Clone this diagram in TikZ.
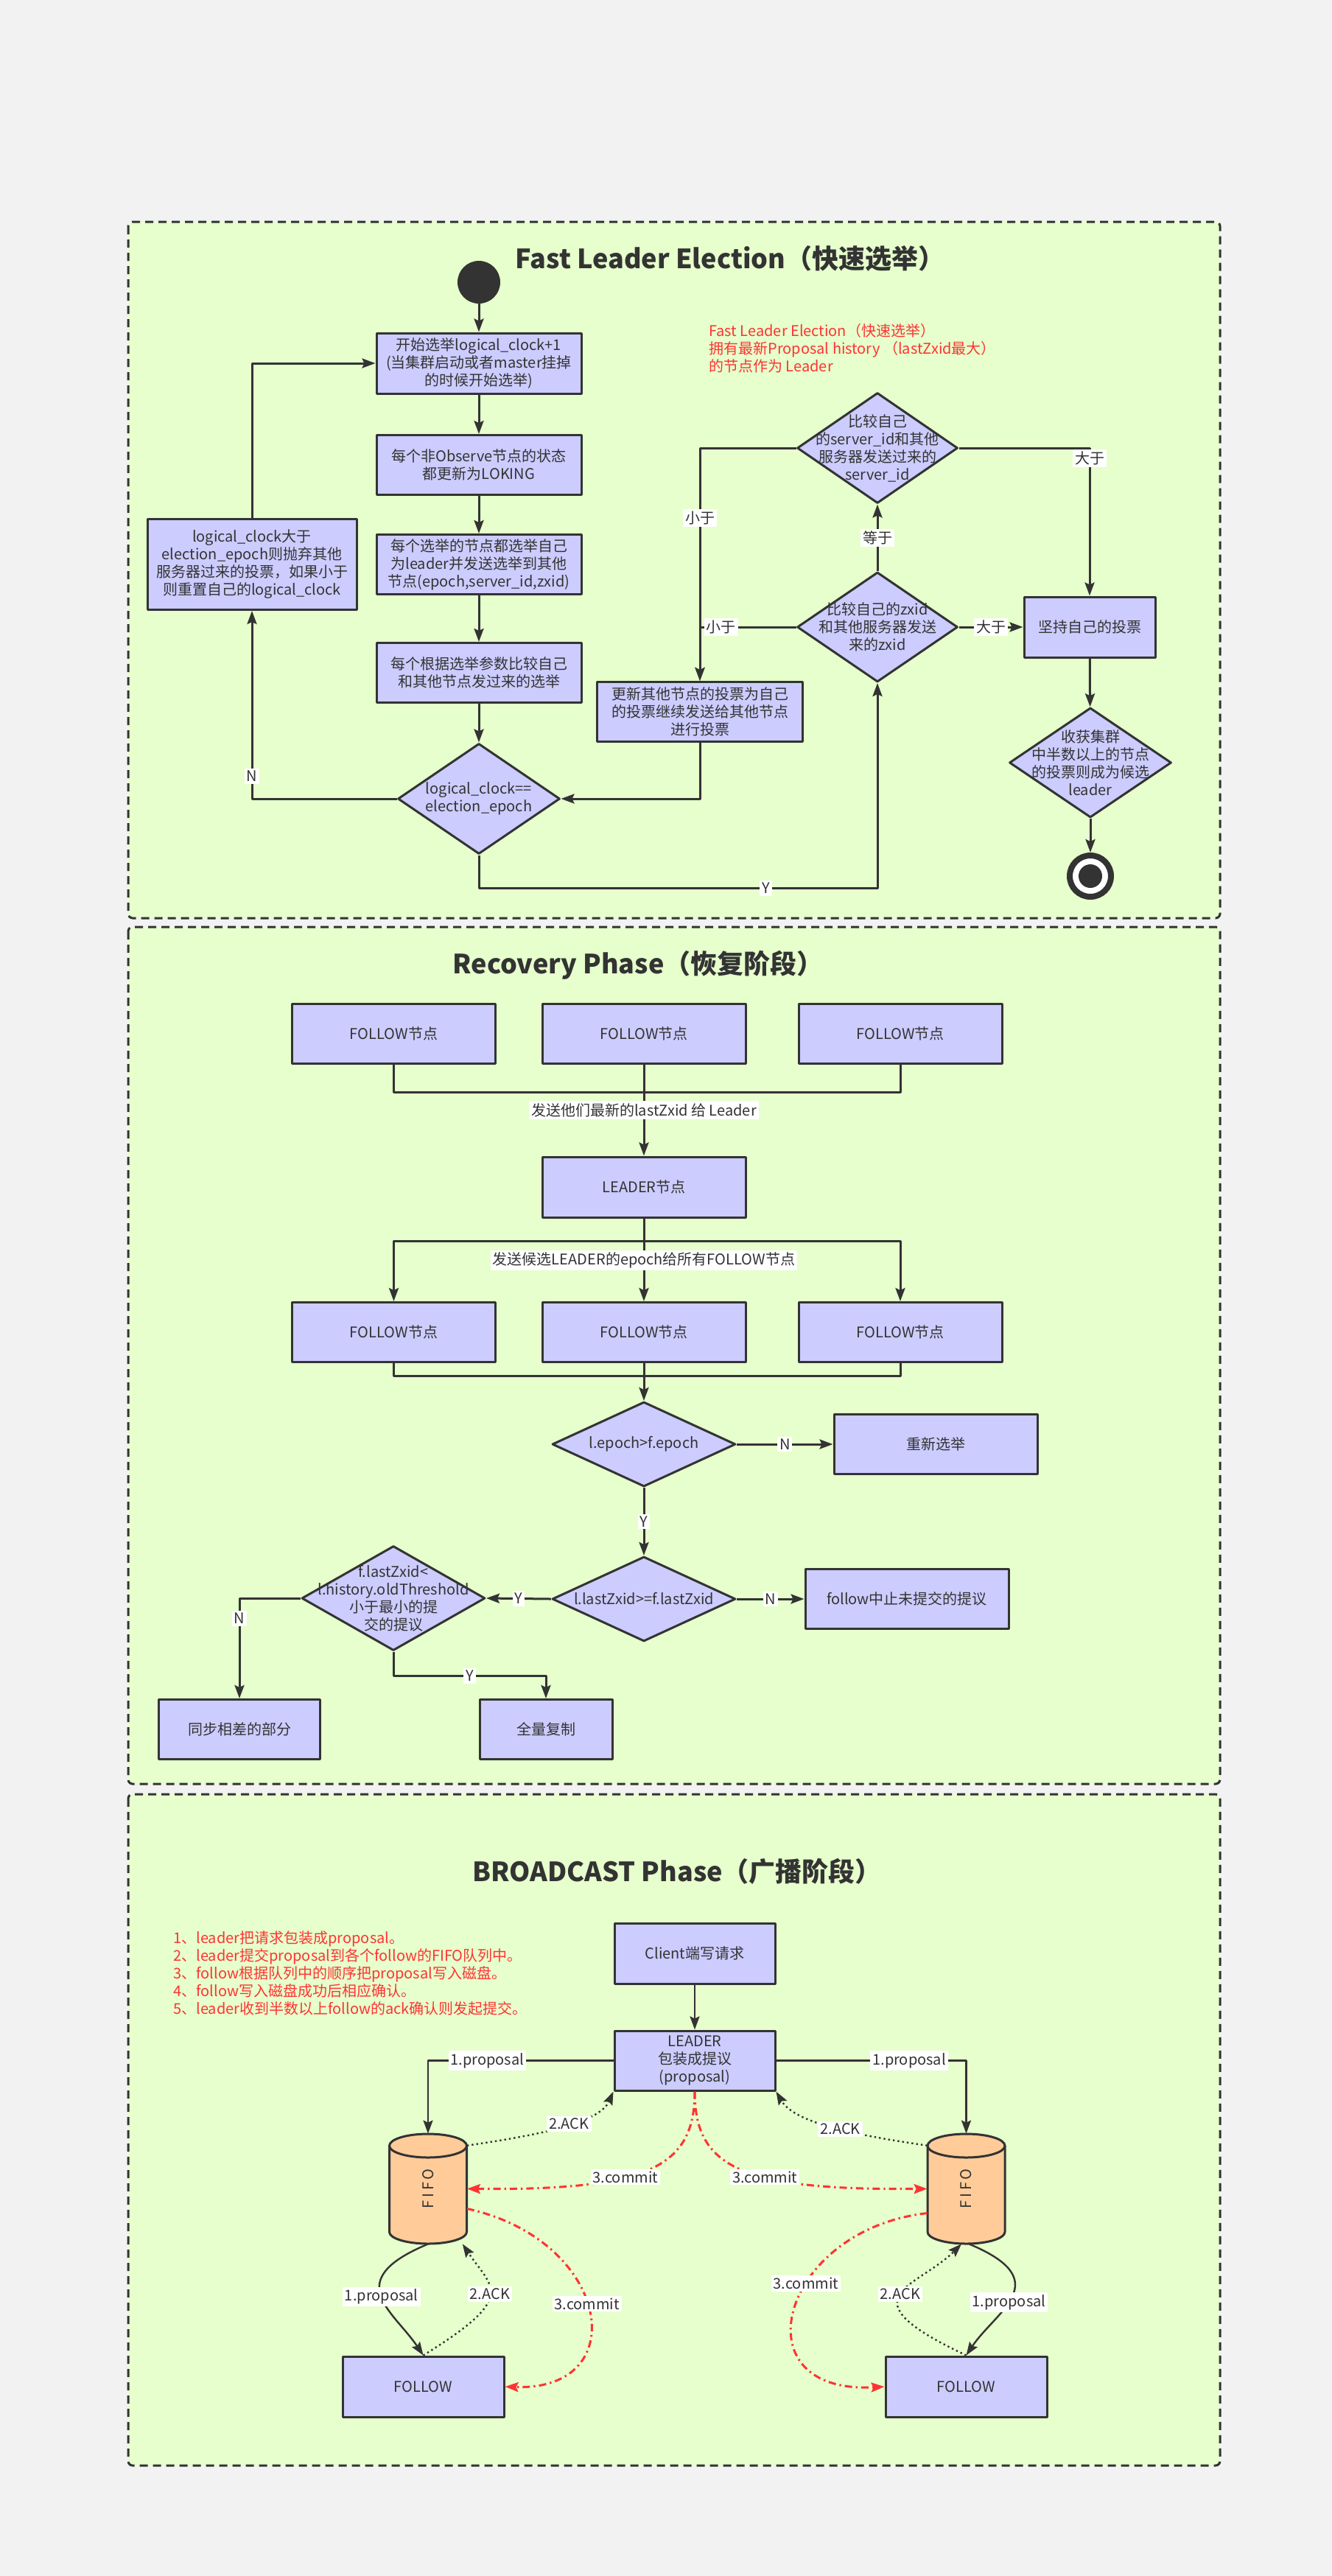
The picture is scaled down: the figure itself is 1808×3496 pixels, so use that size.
\documentclass[tikz,border=0pt]{standalone}
\usepackage{fontspec}
\setmainfont{Noto Sans CJK SC}
\usetikzlibrary{arrows.meta,shapes.geometric}

\definecolor{pagebg}{HTML}{F2F2F2}
\definecolor{panelbg}{HTML}{E6FFCC}
\definecolor{boxbg}{HTML}{CCCCFF}
\definecolor{fifobg}{HTML}{FFCC99}
\definecolor{ink}{HTML}{333333}
\definecolor{notered}{HTML}{FF3333}

\tikzset{
	panel/.style={draw=ink, fill=panelbg, line width=1.5pt, dash pattern=on 5.5pt off 3.5pt, rounded corners=3pt},
	dims/.style 2 args={minimum width=#1, minimum height=#2},
	stepbox/.style={rectangle, draw=ink, fill=boxbg, line width=1.5pt, text=ink, align=center, inner sep=0pt, font=\fontsize{10pt}{12pt}\selectfont},
	decision/.style={diamond, draw=ink, fill=boxbg, line width=1.5pt, inner sep=0pt},
	dtext/.style={text=ink, align=center, inner sep=0pt, font=\fontsize{10pt}{12pt}\selectfont},
	heading/.style={text=ink, font=\fontsize{18pt}{22pt}\selectfont\bfseries},
	note/.style={text=notered, align=left, inner sep=0pt, font=\fontsize{10pt}{12pt}\selectfont},
	lab/.style={fill=white, text=ink, inner sep=1.5pt, font=\fontsize{10pt}{12pt}\selectfont},
	flow/.style={draw=ink, line width=1.5pt, ->},
	link/.style={draw=ink, line width=1.5pt},
	msg/.style={draw=ink, line width=1.2pt, ->},
	ack/.style={msg, dash pattern=on 1.2pt off 2pt},
	commit/.style={draw=notered, line width=1.5pt, dash pattern=on 5pt off 2.5pt on 1.2pt off 2.5pt, ->},
	cyl/.style={draw=ink, fill=fifobg, line width=1.5pt},
}

\begin{document}
\begin{tikzpicture}[
	x=0.5pt, y=-0.5pt,
	>={Stealth[length=9pt,width=6.5pt,inset=1.5pt]},
	line join=round
	]
	\fill[pagebg] (0,0) rectangle (1808,3496);
	\useasboundingbox (0,0) rectangle (1808,3496);

	% three phases
	\draw[panel] (174,301) rectangle (1656,1246);
	\draw[panel] (174,1258) rectangle (1656,2421);
	\draw[panel] (174,2435) rectangle (1656,3346);

	% ---------- Fast Leader Election ----------
	\node[heading] (titleFle) at (991,351) {Fast Leader Election（快速选举）};
	\node[note, anchor=west] (noteFle) at (962,473) {Fast Leader Election（快速选举）\\拥有最新Proposal history （lastZxid最大）\\的节点作为 Leader};

	\node[circle, fill=ink, minimum size=29pt, inner sep=0pt] (start) at (650,383) {};
	\node[stepbox, dims={139pt}{41pt}] (beginVote) at (650,493) {开始选举logical\_clock+1\\(当集群启动或者master挂掉\\的时候开始选举)};
	\node[stepbox, dims={139pt}{40.5pt}] (looking) at (650,631) {每个非Observe节点的状态\\都更新为LOKING};
	\node[stepbox, dims={139pt}{40.5pt}] (voteSelf) at (650,766) {每个选举的节点都选举自己\\为leader并发送选举到其他\\节点(epoch,server\_id,zxid)};
	\node[stepbox, dims={139pt}{40.5pt}] (compare) at (650,913) {每个根据选举参数比较自己\\和其他节点发过来的选举};
	\node[decision, dims={110pt}{75pt}] (sameEpoch) at (650,1084) {};
	\node[dtext] (sameEpochText) at (sameEpoch) {logical\_clock==\\election\_epoch};
	\node[stepbox, dims={142pt}{61.5pt}] (resetClock) at (342,766) {logical\_clock大于\\election\_epoch则抛弃其他\\服务器过来的投票，如果小于\\则重置自己的logical\_clock};

	\node[decision, dims={109pt}{74.5pt}] (cmpZxid) at (1191,851) {};
	\node[dtext] (cmpZxidText) at (cmpZxid) {比较自己的zxid\\和其他服务器发送\\来的zxid};
	\node[decision, dims={109pt}{75pt}] (cmpSid) at (1191,608) {};
	\node[dtext] (cmpSidText) at (cmpSid) {比较自己\\的server\_id和其他\\服务器发送过来的\\server\_id};
	\node[stepbox, dims={139.5pt}{40.5pt}] (updateVote) at (950,966) {更新其他节点的投票为自己\\的投票继续发送给其他节点\\进行投票};
	\node[stepbox, dims={89pt}{41pt}] (keepVote) at (1479,851) {坚持自己的投票};
	\node[decision, dims={110pt}{74.5pt}] (quorum) at (1480,1035) {};
	\node[dtext] (quorumText) at (quorum) {收获集群\\中半数以上的节点\\的投票则成为候选\\leader};
	\node[circle, draw=ink, fill=white, line width=4pt, minimum size=28pt, inner sep=0pt] (finish) at (1480,1189) {};
	\node[circle, fill=ink, minimum size=16pt, inner sep=0pt] (finishCore) at (finish) {};

	\draw[flow] (start) -- (beginVote);
	\draw[flow] (beginVote) -- (looking);
	\draw[flow] (looking) -- (voteSelf);
	\draw[flow] (voteSelf) -- (compare);
	\draw[flow] (compare) -- (sameEpoch);
	\draw[flow] (sameEpoch.west) -| node[lab, pos=0.56] {N} (resetClock.south);
	\draw[flow] (resetClock.north) |- (beginVote.west);
	\draw[flow] (sameEpoch.south) -- ++(0,45) -| node[lab, pos=0.36] {Y} (cmpZxid.south);
	\draw[flow] (cmpZxid.north) -- node[lab] {等于} (cmpSid.south);
	\draw[flow] (cmpZxid.west) -| node[lab, pos=0.39] {小于} (updateVote.north);
	\draw[flow] (cmpSid.west) -| node[lab, pos=0.65] {小于} (updateVote.north);
	\draw[flow] (cmpSid.east) -| node[lab, pos=0.535] {大于} (keepVote.north);
	\draw[flow] (cmpZxid.east) -- node[lab] {大于} (keepVote.west);
	\draw[flow] (updateVote.south) |- (sameEpoch.east);
	\draw[flow] (keepVote) -- (quorum);
	\draw[flow] (quorum) -- (finish);

	% ---------- Recovery Phase ----------
	\node[heading] (titleRec) at (866,1310) {Recovery Phase（恢复阶段）};
	\node[stepbox, dims={138pt}{40.5pt}] (followA) at (534.5,1402.5) {FOLLOW节点};
	\node[stepbox, dims={138pt}{40.5pt}] (followB) at (874,1402.5) {FOLLOW节点};
	\node[stepbox, dims={138pt}{40.5pt}] (followC) at (1222,1402.5) {FOLLOW节点};
	\node[stepbox, dims={138pt}{41pt}] (leaderRec) at (874,1611) {LEADER节点};
	\node[stepbox, dims={138pt}{40.5pt}] (syncA) at (534.5,1808) {FOLLOW节点};
	\node[stepbox, dims={138pt}{40.5pt}] (syncB) at (874,1808) {FOLLOW节点};
	\node[stepbox, dims={138pt}{40.5pt}] (syncC) at (1222,1808) {FOLLOW节点};
	\node[decision, dims={124.5pt}{57.5pt}] (epochCheck) at (874,1960) {};
	\node[dtext] (epochCheckText) at (epochCheck) {l.epoch>f.epoch};
	\node[stepbox, dims={138pt}{40.5pt}] (reElect) at (1270,1960) {重新选举};
	\node[decision, dims={124.5pt}{57.5pt}] (zxidCheck) at (874,2170) {};
	\node[dtext] (zxidCheckText) at (zxidCheck) {l.lastZxid>=f.lastZxid};
	\node[stepbox, dims={138pt}{40.5pt}] (abortProp) at (1231,2170) {follow中止未提交的提议};
	\node[decision, dims={124.5pt}{71pt}] (oldCheck) at (534,2169) {};
	\node[dtext] (oldCheckText) at (oldCheck) {f.lastZxid<\\l.history.oldThreshold\\小于最小的提\\交的提议};
	\node[stepbox, dims={109.5pt}{40.5pt}] (syncDiff) at (325,2347) {同步相差的部分};
	\node[stepbox, dims={90pt}{40.5pt}] (fullCopy) at (741,2347) {全量复制};

	\coordinate (busUp) at (874,1482);
	\coordinate (busDown) at (874,1684);
	\coordinate (busJoin) at (874,1867);
	\draw[link] (followA.south) |- (busUp) -| (followC.south);
	\draw[flow] (followB.south) -- node[lab] {发送他们最新的lastZxid 给 Leader} (leaderRec.north);
	\draw[link] (leaderRec.south) -- (busDown);
	\draw[flow] (busDown) -| (syncA.north);
	\draw[flow] (busDown) -| (syncC.north);
	\draw[flow] (busDown) -- node[lab, pos=0.32] {发送候选LEADER的epoch给所有FOLLOW节点} (syncB.north);
	\draw[link] (syncA.south) |- (busJoin) -| (syncC.south);
	\draw[flow] (syncB.south) -- (epochCheck.north);
	\draw[flow] (epochCheck.east) -- node[lab] {N} (reElect.west);
	\draw[flow] (epochCheck.south) -- node[lab] {Y} (zxidCheck.north);
	\draw[flow] (zxidCheck.east) -- node[lab] {N} (abortProp.west);
	\draw[flow] (zxidCheck.west) -- node[lab] {Y} (oldCheck.east);
	\draw[flow] (oldCheck.west) -| node[lab, pos=0.6] {N} (syncDiff.north);
	\draw[flow] (oldCheck.south) -- ++(0,33) -| node[lab, pos=0.25] {Y} (fullCopy.north);

	% ---------- BROADCAST Phase ----------
	\node[heading] (titleBc) at (919,2540) {BROADCAST Phase（广播阶段）};
	\node[note, anchor=west] (stepsBc) at (235,2677.5) {1、leader把请求包装成proposal。\\2、leader提交proposal到各个follow的FIFO队列中。\\3、follow根据队列中的顺序把proposal写入磁盘。\\4、follow写入磁盘成功后相应确认。\\5、leader收到半数以上follow的ack确认则发起提交。};
	\node[stepbox, dims={109pt}{41pt}] (client) at (943,2651) {Client端写请求};
	\node[stepbox, dims={109pt}{40.5pt}] (leaderBc) at (943,2796.5) {LEADER\\包装成提议\\(proposal)};

	% FIFO queues
	\filldraw[cyl] (528.5,2912) -- (528.5,3029) arc[start angle=180, end angle=0, x radius=52.5, y radius=16] -- (633.5,2912) arc[start angle=0, end angle=-180, x radius=52.5, y radius=16] -- cycle;
	\draw[cyl, fill=none] (633.5,2912) arc[start angle=0, end angle=180, x radius=52.5, y radius=16];
	\filldraw[cyl] (1259,2912) -- (1259,3029) arc[start angle=180, end angle=0, x radius=52.5, y radius=16] -- (1364,2912) arc[start angle=0, end angle=-180, x radius=52.5, y radius=16] -- cycle;
	\draw[cyl, fill=none] (1364,2912) arc[start angle=0, end angle=180, x radius=52.5, y radius=16];
	\node[minimum width=52.5pt, minimum height=74.5pt, inner sep=0pt] (fifoL) at (581,2970.5) {};
	\node[minimum width=52.5pt, minimum height=74.5pt, inner sep=0pt] (fifoR) at (1311.5,2970.5) {};
	\node[dtext, rotate=90] (fifoLText) at (fifoL) {\addfontfeature{LetterSpace=20}FIFO};
	\node[dtext, rotate=90] (fifoRText) at (fifoR) {\addfontfeature{LetterSpace=20}FIFO};

	\node[stepbox, dims={109.5pt}{41pt}] (followL) at (574.5,3239) {FOLLOW};
	\node[stepbox, dims={109.5pt}{41pt}] (followR) at (1311.5,3239) {FOLLOW};

	\draw[msg] (client) -- (leaderBc);
	\draw[msg] (leaderBc.west) -| node[lab, pos=0.34] {1.proposal} (fifoL.north);
	\draw[msg] (leaderBc.east) -| node[lab, pos=0.35] {1.proposal} (fifoR.north);
	\draw[ack] (fifoL.48) .. controls +(96,-14) and +(-19,43) .. node[lab, pos=0.55] {2.ACK} (leaderBc.south west);
	\draw[ack] (fifoR.132) .. controls +(-96,-14) and +(25,43) .. node[lab, pos=0.45] {2.ACK} (leaderBc.south east);
	\draw[commit] (leaderBc.south) .. controls +(0,103) and +(246,2) .. node[lab, pos=0.6] {3.commit} (fifoL.east);
	\draw[commit] (leaderBc.south) .. controls +(0,103) and +(-253,2) .. node[lab, pos=0.6] {3.commit} (fifoR.west);

	\draw[msg] (fifoL.south) .. controls +(-120,50) and +(-40,-60) .. node[lab, pos=0.5] {1.proposal} (followL.north);
	\draw[ack] (followL.north) .. controls +(130,-80) and +(40,60) .. node[lab, pos=0.5] {2.ACK} (fifoL.-58);
	\draw[commit] (fifoL.-27) .. controls +(196,43) and +(176,6) .. node[lab, pos=0.47] {3.commit} (followL.east);
	\draw[msg] (fifoR.-87) .. controls +(120,50) and +(40,-60) .. node[lab, pos=0.55] {1.proposal} (followR.north);
	\draw[ack] (followR.north) .. controls +(-170,-80) and +(-60,60) .. node[lab, pos=0.5] {2.ACK} (fifoR.-95);
	\draw[commit] (fifoR.212) .. controls +(-199,22) and +(-202,11) .. node[lab, pos=0.4] {3.commit} (followR.west);
\end{tikzpicture}
\end{document}
